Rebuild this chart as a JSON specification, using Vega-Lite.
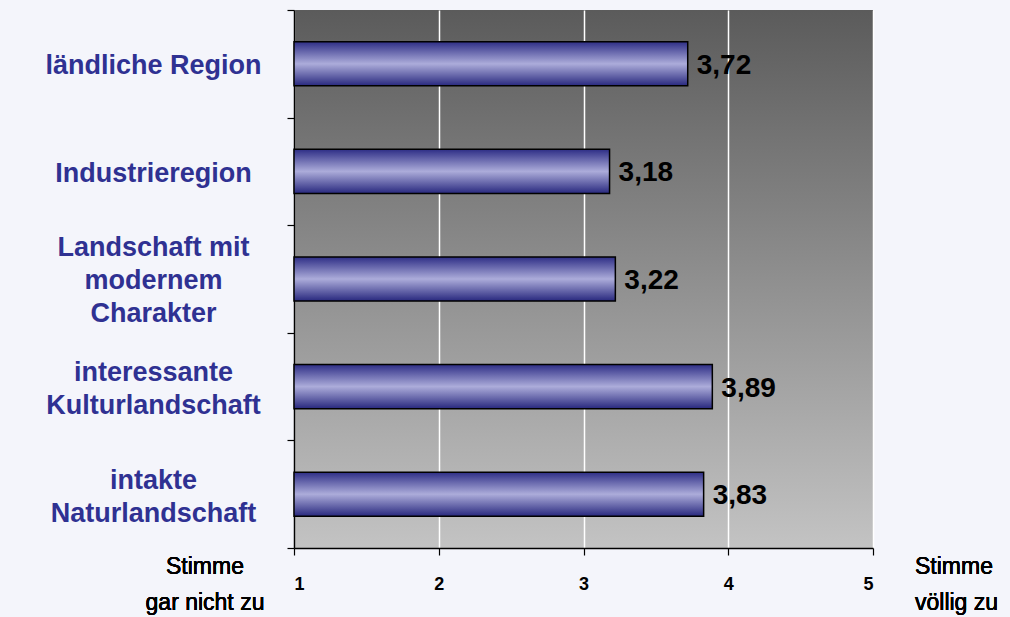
{
  "$schema": "https://vega.github.io/schema/vega-lite/v6.json",
  "autosize": "none",
  "width": 579,
  "height": 538,
  "padding": {"left": 294, "top": 10, "right": 137, "bottom": 69},
  "background": "#f4f5fb",
  "config": {
    "locale": {"number": {"decimal": ",", "thousands": ".", "grouping": [3], "currency": ["", " €"]}},
    "font": "Liberation Sans",
    "view": {
      "stroke": null,
      "fill": {"gradient": "linear", "x1": 0, "y1": 0, "x2": 0, "y2": 1,
               "stops": [{"offset": 0, "color": "#5b5b5b"}, {"offset": 1, "color": "#c3c3c3"}]}
    }
  },
  "data": {"values": [
    {"region": "ländliche Region", "value": 3.72},
    {"region": "Industrieregion", "value": 3.18},
    {"region": "Landschaft mit modernem Charakter", "value": 3.22},
    {"region": "interessante Kulturlandschaft", "value": 3.89},
    {"region": "intakte Naturlandschaft", "value": 3.83}
  ]},
  "layer": [
    {
      "mark": {
        "type": "bar",
        "height": {"band": 0.41},
        "stroke": "#000000",
        "strokeWidth": 1.5,
        "color": {"gradient": "linear", "x1": 0, "y1": 0, "x2": 0, "y2": 1,
                  "stops": [{"offset": 0, "color": "#2e2e86"}, {"offset": 0.5, "color": "#acacda"}, {"offset": 1, "color": "#28287e"}]}
      },
      "encoding": {
        "y": {
          "field": "region", "type": "nominal", "sort": null,
          "scale": {"paddingInner": 0, "paddingOuter": 0},
          "axis": {
            "title": null,
            "domainColor": "#000000", "domainWidth": 1.5,
            "tickColor": "#000000", "tickSize": 7, "tickWidth": 1.2, "tickBand": "extent",
            "labelFont": "Liberation Sans", "labelFontWeight": "bold", "labelFontSize": 27,
            "labelColor": "#2f3192", "labelAlign": "center", "labelPadding": 134,
            "labelLineHeight": 33, "labelLimit": 0,
            "labelOffset": {
              "condition": [
                {"test": "datum.value == 'Landschaft mit modernem Charakter'", "value": -32},
                {"test": "datum.value == 'interessante Kulturlandschaft' || datum.value == 'intakte Naturlandschaft'", "value": -14}
              ],
              "value": 2
            },
            "labelExpr": "datum.value == 'Landschaft mit modernem Charakter' ? ['Landschaft mit', 'modernem', 'Charakter'] : datum.value == 'interessante Kulturlandschaft' ? ['interessante', 'Kulturlandschaft'] : datum.value == 'intakte Naturlandschaft' ? ['intakte', 'Naturlandschaft'] : datum.value"
          }
        },
        "x": {
          "field": "value", "type": "quantitative",
          "scale": {"domain": [1, 5], "zero": false, "nice": false},
          "axis": {
            "title": null, "values": [1, 2, 3, 4, 5], "format": "d",
            "domainColor": "#000000", "domainWidth": 1.5,
            "tickColor": "#000000", "tickSize": 7, "tickWidth": 1.2,
            "grid": true, "gridColor": "#ffffff", "gridWidth": 1.5, "gridOpacity": 1,
            "labelFont": "Liberation Sans", "labelFontWeight": "bold", "labelFontSize": 18,
            "labelColor": "#000000", "labelPadding": 20
          }
        },
        "x2": {"datum": 1}
      }
    },
    {
      "mark": {"type": "text", "align": "left", "baseline": "middle", "dx": 9, "dy": 2,
               "font": "Liberation Sans", "fontWeight": "bold", "fontSize": 28, "color": "#000000"},
      "encoding": {
        "y": {"field": "region", "type": "nominal", "sort": null},
        "x": {"field": "value", "type": "quantitative"},
        "text": {"field": "value", "type": "quantitative", "format": ".2f"}
      }
    },
    {
      "mark": {"type": "text", "align": "center", "baseline": "middle", "dx": -89, "dy": 73,
               "font": "Liberation Sans", "fontWeight": "normal", "fontSize": 23, "lineHeight": 36, "color": "#000000",
               "text": ["Stimme", "gar nicht zu"]},
      "encoding": {
        "y": {"datum": "intakte Naturlandschaft", "type": "nominal"},
        "x": {"datum": 1, "type": "quantitative"}
      }
    },
    {
      "mark": {"type": "text", "align": "left", "baseline": "middle", "dx": 42, "dy": 73,
               "font": "Liberation Sans", "fontWeight": "normal", "fontSize": 23, "lineHeight": 36, "color": "#000000",
               "text": ["Stimme", "völlig zu"]},
      "encoding": {
        "y": {"datum": "intakte Naturlandschaft", "type": "nominal"},
        "x": {"datum": 5, "type": "quantitative"}
      }
    }
  ]
}
